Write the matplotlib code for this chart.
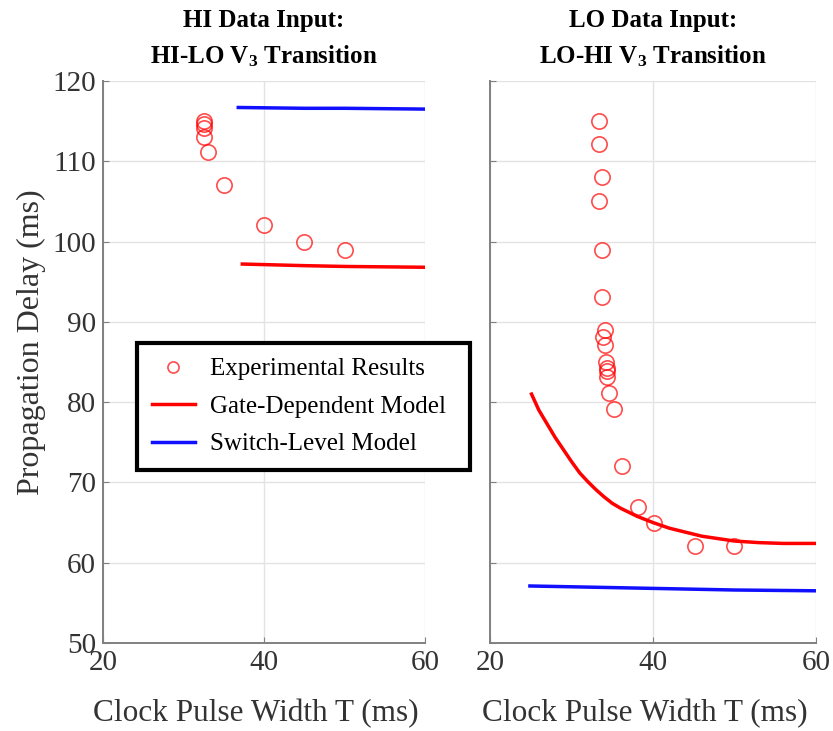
import matplotlib
matplotlib.use("Agg")
import matplotlib.pyplot as plt

plt.rcParams.update({
    "font.family": ["Liberation Serif", "DejaVu Serif"],
    "mathtext.fontset": "custom",
    "mathtext.rm": "Liberation Serif",
    "mathtext.bf": "Liberation Serif:bold",
    "mathtext.it": "Liberation Serif:italic",
})

# HI data input, HI-LO V3 transition
hilo_exp_T = [32.6, 32.6, 32.6, 32.6, 33.0, 35.0, 40.0, 45.0, 50.0]
hilo_exp_d = [115.0, 114.6, 114.1, 113.0, 111.1, 107.1, 102.1, 100.0, 99.0]
hilo_gate_T = [37.3, 45.0, 50.0, 60.0]
hilo_gate_d = [97.2, 97.0, 96.9, 96.8]
hilo_switch_T = [36.8, 45.0, 50.0, 60.0]
hilo_switch_d = [116.7, 116.6, 116.6, 116.5]

# LO data input, LO-HI V3 transition
lohi_exp_T = [33.4, 33.4, 33.7, 33.4, 33.7, 33.8, 34.1, 33.9, 34.1, 34.2,
              34.3, 34.3, 34.4, 34.6, 35.2, 36.2, 38.1, 40.1, 45.2, 50.0]
lohi_exp_d = [115.0, 112.1, 108.1, 105.0, 99.0, 93.1, 89.0, 88.1, 87.1, 85.0,
              84.2, 83.9, 83.1, 81.1, 79.1, 72.1, 67.0, 65.0, 62.1, 62.1]
lohi_gate_T = [25.1, 26.0, 27.0, 28.0, 29.0, 30.0, 31.0, 32.0, 33.0, 34.0,
               35.0, 36.0, 37.0, 38.0, 40.0, 42.0, 44.0, 46.0, 48.0, 50.0,
               53.0, 56.0, 60.0]
lohi_gate_d = [81.0, 79.0, 77.3, 75.6, 74.1, 72.6, 71.2, 70.1, 69.1, 68.2,
               67.4, 66.8, 66.3, 65.8, 65.0, 64.3, 63.8, 63.3, 63.0, 62.7,
               62.5, 62.4, 62.4]
lohi_switch_T = [24.9, 30.0, 40.0, 50.0, 60.0]
lohi_switch_d = [57.1, 57.0, 56.8, 56.6, 56.5]

xticks = [20, 40, 60]
yticks = [50, 60, 70, 80, 90, 100, 110, 120]

RED = "#ff0000"
BLUE = "#1010ff"
SPINE = "#808080"
TXT = "#333333"

fig = plt.figure(figsize=(8.33, 7.31), dpi=100)
ax1 = fig.add_axes([0.1237, 0.1204, 0.3866, 0.7688])
ax2 = fig.add_axes([0.5882, 0.1204, 0.3914, 0.7688])


def style(ax, show_ylabels):
    ax.set_xlim(20, 60)
    ax.set_ylim(50, 120)
    ax.set_xticks(xticks)
    ax.set_yticks(yticks)
    ax.grid(True, color="#e3e3e3", linewidth=1.0)
    ax.set_axisbelow(True)
    for s in ("top", "right"):
        ax.spines[s].set_visible(False)
    for s in ("left", "bottom"):
        ax.spines[s].set_color(SPINE)
        ax.spines[s].set_linewidth(1.4)
    ax.tick_params(direction="in", length=4, color=SPINE, labelsize=21,
                   labelcolor=TXT, pad=5)
    if not show_ylabels:
        ax.set_yticklabels([])
    ax.set_xlabel("Clock Pulse Width T (ms)", fontsize=22.5, color=TXT)
    ax.xaxis.set_label_coords(0.475, -0.1)


style(ax1, True)
style(ax2, False)
ax1.set_ylabel("Propagation Delay (ms)", fontsize=23, color=TXT)
ax1.yaxis.set_label_coords(-0.178, 0.535)

ax1.plot(hilo_exp_T, hilo_exp_d, "o", mfc="none", mec=RED, mew=1.2, ms=11,
         alpha=0.7, label="Experimental Results", clip_on=False)
ax1.plot(hilo_gate_T, hilo_gate_d, color=RED, lw=2.5, label="Gate-Dependent Model")
ax1.plot(hilo_switch_T, hilo_switch_d, color=BLUE, lw=2.5, label="Switch-Level Model")

ax2.plot(lohi_exp_T, lohi_exp_d, "o", mfc="none", mec=RED, mew=1.2, ms=11,
         alpha=0.7)
ax2.plot(lohi_gate_T, lohi_gate_d, color=RED, lw=2.5)
ax2.plot(lohi_switch_T, lohi_switch_d, color=BLUE, lw=2.5)

ax1.set_title("HI Data Input:\nHI-LO $\\mathbf{V_3}$ Transition", fontsize=18,
              fontweight="bold", pad=13, linespacing=1.55)
ax2.set_title("LO Data Input:\nLO-HI $\\mathbf{V_3}$ Transition", fontsize=18,
              fontweight="bold", pad=13, linespacing=1.55)

# legend box spans from the left panel into the gap between panels
leg = fig.legend(*ax1.get_legend_handles_labels(),
                 loc="upper left", bbox_to_anchor=(0.1645, 0.3625, 0.3995, 0.1683),
                 mode="expand", fontsize=18, frameon=True, fancybox=False,
                 framealpha=1, edgecolor="black", handlelength=1.7,
                 borderpad=0.6, labelspacing=0.6, handletextpad=0.6,
                 borderaxespad=0)
leg.get_frame().set_linewidth(3)
leg.legend_handles[0].set_markersize(8)

fig.savefig("out.png", dpi=100)
